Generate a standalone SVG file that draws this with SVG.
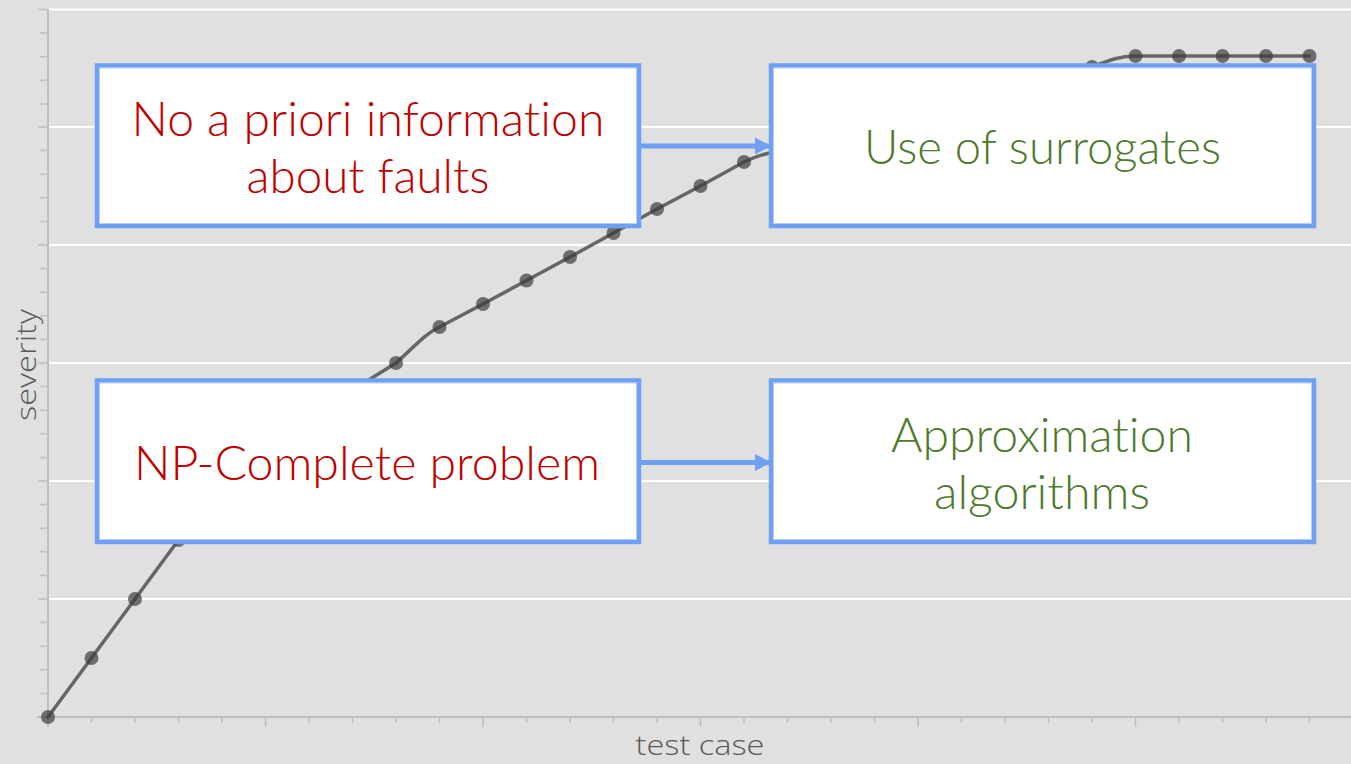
<svg xmlns="http://www.w3.org/2000/svg" width="1351" height="764" viewBox="0 0 1351 764">
  <style>
    .grid { stroke: #ffffff; stroke-width: 2; }
    .axis { stroke: #bfbfbf; stroke-width: 2; fill: none; }
    .tick { stroke: #bfbfbf; stroke-width: 1.5; }
    .box { fill: #ffffff; stroke: #6fa0f2; stroke-width: 4.5; }
    .boxin { fill: none; stroke: #b4cef8; stroke-width: 1; }
    .red { fill: #c00000; font-family: Lato, "Open Sans", sans-serif; font-size: 47px; font-weight: 300; text-anchor: middle; font-variant-ligatures: none; }
    .green { fill: #4e7a2c; font-family: Lato, "Open Sans", sans-serif; font-size: 47px; font-weight: 300; text-anchor: middle; font-variant-ligatures: none; }
    .axlabel { fill: #595959; font-family: "Open Sans", "Noto Sans", sans-serif; font-size: 28px; font-weight: 300; text-anchor: middle; }
    .curve { fill: none; stroke: #666666; stroke-width: 3.5; stroke-linejoin: round; stroke-linecap: round; }
    .dot { fill: #3c3c3c; fill-opacity: 0.7; }
    .conn { stroke: #6fa0f2; stroke-width: 5; fill: none; }
  </style>
  <defs>
    <marker id="arrow" markerUnits="userSpaceOnUse" markerWidth="18" markerHeight="18" refX="16" refY="9" orient="auto">
      <path d="M0,0.5 L16,9 L0,17.5 Z" fill="#6fa0f2"/>
    </marker>
  </defs>
  <rect x="0" y="0" width="1351" height="764" fill="#e0e0e0"/>

  <g id="chart">
    <g id="gridlines">
      <line class="grid" x1="48" y1="9.5" x2="1351" y2="9.5"/>
      <line class="grid" x1="48" y1="127" x2="1351" y2="127"/>
      <line class="grid" x1="48" y1="245" x2="1351" y2="245"/>
      <line class="grid" x1="48" y1="363" x2="1351" y2="363"/>
      <line class="grid" x1="48" y1="481" x2="1351" y2="481"/>
      <line class="grid" x1="48" y1="599" x2="1351" y2="599"/>
    </g>
    <g id="yticks">
      <path class="tick" d="M38,9.5H48 M40,33.1H48 M40,56.7H48 M40,80.3H48 M40,103.9H48 M38,127H48 M40,150.6H48 M40,174.2H48 M40,197.8H48 M40,221.4H48 M38,245H48 M40,268.6H48 M40,292.2H48 M40,315.8H48 M40,339.4H48 M38,363H48 M40,386.6H48 M40,410.2H48 M40,433.8H48 M40,457.4H48 M38,481H48 M40,504.6H48 M40,528.2H48 M40,551.8H48 M40,575.4H48 M38,599H48 M40,622.6H48 M40,646.2H48 M40,669.8H48 M40,693.4H48 M38,717H48"/>
    </g>
    <g id="xticks">
      <path class="tick" d="M48,717V727 M91.5,717V723 M135,717V723 M178.5,717V723 M222,717V723 M265.5,717V727 M309,717V723 M352.5,717V723 M396,717V723 M439.5,717V723 M483,717V727 M526.5,717V723 M570,717V723 M613.5,717V723 M657,717V723 M700.5,717V727 M744,717V723 M787.5,717V723 M831,717V723 M874.5,717V723 M918,717V727 M961.5,717V723 M1005,717V723 M1048.5,717V723 M1092,717V723 M1135.5,717V727 M1179,717V723 M1222.5,717V723 M1266,717V723 M1309.5,717V723"/>
    </g>
    <path class="axis" d="M48,9 V717 M37,717 H1351"/>
    <text class="axlabel" x="700" y="755" textLength="129" lengthAdjust="spacingAndGlyphs">test case</text>
    <text class="axlabel" transform="translate(36,365) rotate(-90)" x="0" y="0" textLength="112" lengthAdjust="spacingAndGlyphs">severity</text>

    <g id="series">
      <path class="curve" d="M48,717 L91.5,658 L135,599 L178.5,540 L222,490 C240,466 250,458 265.5,448 L309,418 L352.5,390 L396,363 C415,346 425,334 439.5,327 L483,304 L526.5,280.5 L570,257 L613.5,233 L657,209 L700.5,186 L744,162 C760,154 775,151 787.5,150 L831,140 L874.5,130 L918,118 L961.5,105 L1005,92 L1048.5,80 L1092,67 C1110,60 1120,56 1135.5,56 L1179,56 L1222.5,56 L1266,56 L1309.5,56"/>
      <g class="dots">
        <circle class="dot" cx="48" cy="717" r="7"/>
        <circle class="dot" cx="91.5" cy="658" r="7"/>
        <circle class="dot" cx="135" cy="599" r="7"/>
        <circle class="dot" cx="178.5" cy="540" r="7"/>
        <circle class="dot" cx="222" cy="490" r="7"/>
        <circle class="dot" cx="265.5" cy="448" r="7"/>
        <circle class="dot" cx="309" cy="418" r="7"/>
        <circle class="dot" cx="352.5" cy="390" r="7"/>
        <circle class="dot" cx="396" cy="363" r="7"/>
        <circle class="dot" cx="439.5" cy="327" r="7"/>
        <circle class="dot" cx="483" cy="304" r="7"/>
        <circle class="dot" cx="526.5" cy="280.5" r="7"/>
        <circle class="dot" cx="570" cy="257" r="7"/>
        <circle class="dot" cx="613.5" cy="233" r="7"/>
        <circle class="dot" cx="657" cy="209" r="7"/>
        <circle class="dot" cx="700.5" cy="186" r="7"/>
        <circle class="dot" cx="744" cy="162" r="7"/>
        <circle class="dot" cx="1092" cy="67" r="7"/>
        <circle class="dot" cx="1135.5" cy="56" r="7"/>
        <circle class="dot" cx="1179" cy="56" r="7"/>
        <circle class="dot" cx="1222.5" cy="56" r="7"/>
        <circle class="dot" cx="1266" cy="56" r="7"/>
        <circle class="dot" cx="1309.5" cy="56" r="7"/>
      </g>
    </g>
  </g>

  <g id="connectors">
    <line class="conn" x1="639" y1="146" x2="771" y2="146" marker-end="url(#arrow)"/>
    <line class="conn" x1="639" y1="462.5" x2="771" y2="462.5" marker-end="url(#arrow)"/>
  </g>

  <g id="node-no-apriori">
    <rect class="box" x="97" y="65.5" width="542" height="160.5"/>
    <rect class="boxin" x="99.5" y="68" width="537" height="155.5"/>
    <text class="red" x="368" y="136" textLength="473" lengthAdjust="spacingAndGlyphs">No a priori information</text>
    <text class="red" x="368" y="193" textLength="243" lengthAdjust="spacingAndGlyphs">about faults</text>
  </g>
  <g id="node-surrogates">
    <rect class="box" x="771" y="65.5" width="543" height="160.5"/>
    <rect class="boxin" x="773.5" y="68" width="538" height="155.5"/>
    <text class="green" x="1042.5" y="164" textLength="357" lengthAdjust="spacingAndGlyphs">Use of surrogates</text>
  </g>
  <g id="node-np-complete">
    <rect class="box" x="97" y="380.5" width="542" height="161.5"/>
    <rect class="boxin" x="99.5" y="383" width="537" height="156.5"/>
    <text class="red" x="367" y="480" textLength="466" lengthAdjust="spacingAndGlyphs">NP-Complete problem</text>
  </g>
  <g id="node-approximation">
    <rect class="box" x="771" y="380.5" width="543" height="161.5"/>
    <rect class="boxin" x="773.5" y="383" width="538" height="156.5"/>
    <text class="green" x="1042" y="452" textLength="302" lengthAdjust="spacingAndGlyphs">Approximation</text>
    <text class="green" x="1042" y="509" textLength="216" lengthAdjust="spacingAndGlyphs">algorithms</text>
  </g>
</svg>
